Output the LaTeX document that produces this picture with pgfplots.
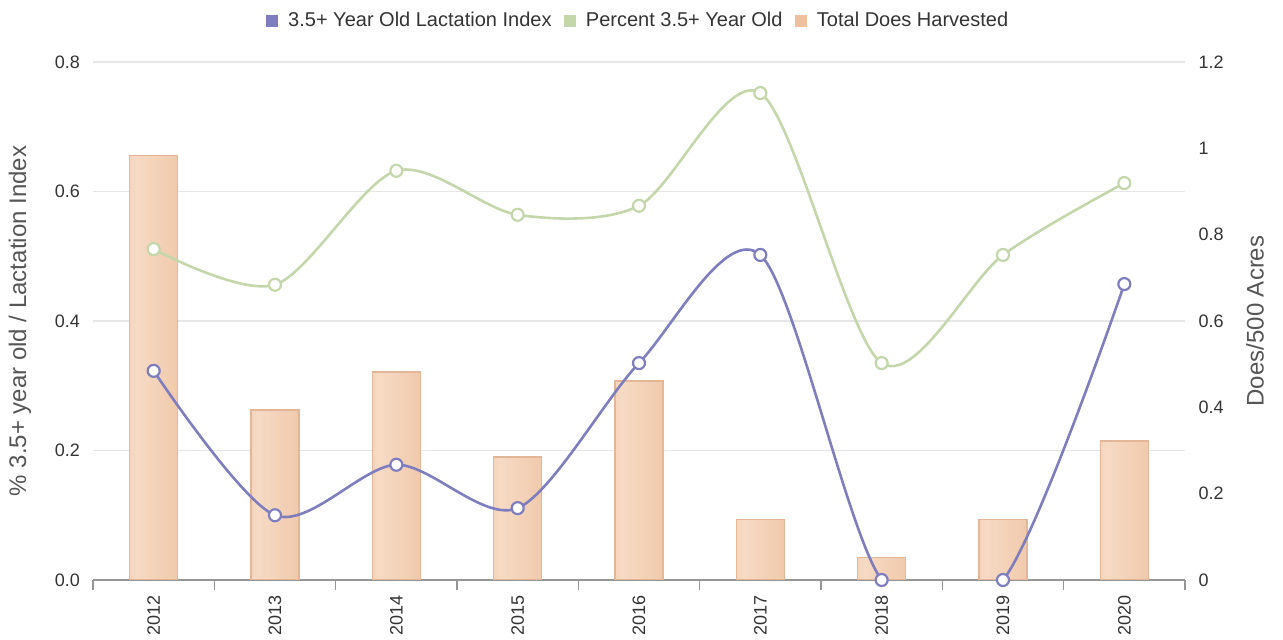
\documentclass[border=0pt]{standalone}
\usepackage{fontspec}
\setmainfont{Liberation Sans}
\usepackage{pgfplots}
\pgfplotsset{compat=1.18}
\definecolor{lac}{RGB}{126,126,190}
\definecolor{pct}{RGB}{196,215,170}
\definecolor{barL}{RGB}{242,200,168}
\definecolor{barM}{RGB}{246,218,196}
\definecolor{barR}{RGB}{238,192,158}
\definecolor{barB}{RGB}{226,182,150}
\definecolor{axgrey}{RGB}{150,150,150}
\definecolor{gridc}{RGB}{230,230,230}
\definecolor{txt}{RGB}{51,51,51}
\definecolor{ttl}{RGB}{85,85,85}
\pgfdeclarehorizontalshading{barshade}{100bp}{color(0bp)=(barL); color(32bp)=(barM); color(100bp)=(barR)}
\begin{document}
\begin{tikzpicture}[font=\fontsize{9}{11}\selectfont]
\begin{axis}[
  scale only axis, width=546pt, height=259pt,
  xmin=-0.5, xmax=8.5, ymin=0, ymax=1.2,
  axis y line*=right, axis x line*=bottom,
  axis line style={draw=axgrey, line width=0.6pt},
  y axis line style={draw=none},
  xtick={0,...,8},
  xticklabels={2012,2013,2014,2015,2016,2017,2018,2019,2020},
  x tick label style={rotate=90, anchor=east, text=txt},
  minor xtick={-0.5,0.5,...,8.5},
  major x tick style={draw=none},
  minor x tick style={draw=axgrey, line width=0.6pt},
  minor tick length=5pt,
  tick align=outside,
  ytick={0,0.2,0.4,0.6,0.8,1,1.2},
  major y tick style={draw=none},
  y tick label style={text=txt, xshift=-1pt},
  /pgf/number format/assume math mode=true,
  extra y ticks={0.3,0.6,0.9,1.2},
  extra y tick labels={},
  extra y tick style={grid=major, major grid style={draw=gridc, line width=0.6pt}, major y tick style={draw=none}},
  ylabel={Does/500 Acres},
  y label style={at={(axis description cs:1,0.5)}, anchor=center, yshift=-35pt, font=\fontsize{12}{14}\selectfont, text=ttl},
  bars/.style={ybar, bar width=24pt, bar shift=0pt, draw=barB, line width=0.6pt, shade, shading=barshade},
]
\addplot[bars] coordinates {(0,0.984)};
\addplot[bars] coordinates {(1,0.394)};
\addplot[bars] coordinates {(2,0.482)};
\addplot[bars] coordinates {(3,0.285)};
\addplot[bars] coordinates {(4,0.461)};
\addplot[bars] coordinates {(5,0.141)};
\addplot[bars] coordinates {(6,0.053)};
\addplot[bars] coordinates {(7,0.141)};
\addplot[bars] coordinates {(8,0.322)};
\end{axis}
\begin{axis}[
  scale only axis, width=546pt, height=259pt,
  xmin=-0.5, xmax=8.5, ymin=0, ymax=0.8,
  axis x line=none, axis y line*=left,
  y axis line style={draw=none},
  ytick={0,0.2,0.4,0.6,0.8},
  major y tick style={draw=none},
  y tick label style={text=txt, xshift=-3pt, /pgf/number format/fixed, /pgf/number format/fixed zerofill, /pgf/number format/precision=1},
  /pgf/number format/assume math mode=true,
  ylabel={\% 3.5+ year old / Lactation Index},
  y label style={at={(axis description cs:0,0.5)}, anchor=center, yshift=36.5pt, font=\fontsize{12}{14}\selectfont, text=ttl},
  legend style={at={(axis description cs:0.5,1)}, anchor=center, yshift=20.5pt, draw=none, fill=none,
    font=\fontsize{10}{12}\selectfont, text=txt, legend columns=3,
    /tikz/every even column/.append style={column sep=4pt}},
  legend image code/.code={\fill[#1, draw=none] (0pt,-3pt) rectangle (6pt,3pt); \path (9pt,0pt);},
]
\addlegendimage{fill=lac}
\addlegendentry{3.5+ Year Old Lactation Index}
\addlegendimage{fill=pct}
\addlegendentry{Percent 3.5+ Year Old}
\addlegendimage{fill=barR}
\addlegendentry{Total Does Harvested}
\addplot[forget plot, smooth, tension=0.5, color=pct, line width=1.3pt,
  mark=*, mark size=3pt, mark options={fill=white, draw=pct, line width=1.1pt}] coordinates {
  (0,0.511) (1,0.456) (2,0.632) (3,0.564) (4,0.578) (5,0.752) (6,0.335) (7,0.502) (8,0.613)};
\addplot[forget plot, smooth, tension=0.5, color=lac, line width=1.3pt,
  mark=*, mark size=3pt, mark options={fill=white, draw=lac, line width=1.1pt}] coordinates {
  (0,0.323) (1,0.100) (2,0.178) (3,0.111) (4,0.335) (5,0.502) (6,0) (7,0) (8,0.457)};
\end{axis}
\pgfresetboundingbox
\path (-46.5pt,-30pt) rectangle (595pt,290pt);
\end{tikzpicture}
\end{document}
